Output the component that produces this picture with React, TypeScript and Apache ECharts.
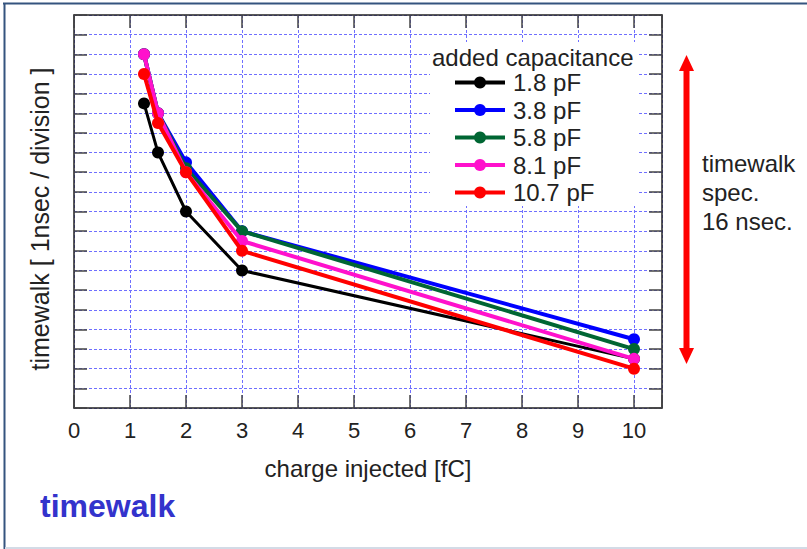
import React, { useEffect, useRef } from "react";
import * as echarts from "echarts";

const charge = [1.25, 1.5, 2, 3, 10];
const seriesNames = ["1.8 pF", "3.8 pF", "5.8 pF", "8.1 pF", "10.7 pF"];
const cap1_8 = [15.5, 13, 10, 7, 2.5];
const cap3_8 = [18, 15, 12.5, 9, 3.5];
const cap5_8 = [18, 15, 12.2, 9, 3];
const cap8_1 = [18, 15, 12, 8.5, 2.5];
const cap10_7 = [17, 14.5, 12, 8, 2];
const seriesValues = [cap1_8, cap3_8, cap5_8, cap8_1, cap10_7];
const seriesColors = ["#000000", "#0000ff", "#006633", "#ff11cc", "#ff0000"];
const seriesWidths = [3, 4, 4, 4, 4];

const FONT = "'Liberation Sans', Arial, Helvetica, sans-serif";
const TEXT = "#222222";

export default function App() {
  const ref = useRef<HTMLDivElement>(null);
  useEffect(() => {
    if (!ref.current) return;
    const chart = echarts.init(ref.current, null, { renderer: "svg" });
    const axisLine = { show: true, onZero: false, lineStyle: { color: "#222", width: 1.5 } };
    const axisTick = { show: true, inside: true, length: 13, lineStyle: { color: "#444", width: 1.5 } };
    const split = { show: true, lineStyle: { color: "#6f6fff", type: [3, 2], width: 1 } };
    const option: any = {
      animation: false,
      backgroundColor: "#ffffff",
      textStyle: { fontFamily: FONT },
      grid: { left: 74, right: 145, top: 15, bottom: 141, containLabel: false },
      xAxis: [
        {
          type: "value",
          min: 0,
          max: 10.5,
          interval: 1,
          position: "bottom",
          axisLine,
          axisTick,
          splitLine: split,
          axisLabel: {
            fontSize: 22,
            lineHeight: 22,
            color: TEXT,
            fontFamily: FONT,
            margin: 11,
            formatter: (v: number) => (Number.isInteger(v) ? String(v) : ""),
          },
          name: "charge injected [fC]",
          nameLocation: "middle",
          nameGap: 48,
          nameTextStyle: { fontSize: 24, lineHeight: 24, color: TEXT, fontFamily: FONT },
        },
        {
          type: "value",
          min: 0,
          max: 10.5,
          interval: 1,
          position: "top",
          axisLine,
          axisTick,
          splitLine: { show: false },
          axisLabel: { show: false },
        },
      ],
      yAxis: [
        {
          type: "value",
          min: 0,
          max: 20,
          interval: 1,
          position: "left",
          axisLine,
          axisTick,
          splitLine: split,
          axisLabel: { show: false },
        },
        {
          type: "value",
          min: 0,
          max: 20,
          interval: 1,
          position: "right",
          axisLine,
          axisTick,
          splitLine: { show: false },
          axisLabel: { show: false },
        },
      ],
      legend: {
        show: true,
        orient: "vertical",
        left: 453,
        top: 69,
        padding: 0,
        itemWidth: 50,
        itemHeight: 15,
        itemGap: 0.5,
        selectedMode: false,
        lineStyle: { width: 4 },
        textStyle: { fontSize: 24, lineHeight: 27, color: TEXT, fontFamily: FONT, padding: [0, 0, 0, 3] },
        data: seriesNames,
        z: 6,
      },
      series: seriesNames.map((name, i) => ({
        type: "line",
        name,
        xAxisIndex: 0,
        yAxisIndex: 0,
        data: charge.map((x, j) => [x, seriesValues[i][j]]),
        symbol: "circle",
        symbolSize: 12,
        showSymbol: true,
        lineStyle: { color: seriesColors[i], width: seriesWidths[i] },
        itemStyle: { color: seriesColors[i] },
        z: 2 + i * 0.1,
      })),
      graphic: [
        { type: "rect", z: 1, shape: { x: 430, y: 42, width: 207, height: 164 }, style: { fill: "#ffffff" } },
        {
          type: "text",
          z: 6,
          x: 432,
          y: 57,
          style: { text: "added capacitance", fontSize: 24, fontFamily: FONT, fill: TEXT, align: "left", verticalAlign: "middle" },
        },
        {
          type: "text",
          z: 6,
          x: 40,
          y: 219,
          rotation: Math.PI / 2,
          style: { text: "timewalk [ 1nsec / division ]", fontSize: 25, fontFamily: FONT, fill: TEXT, align: "center", verticalAlign: "middle" },
        },
        {
          type: "text",
          z: 6,
          x: 702,
          y: 149,
          style: { text: "timewalk\nspec.\n16 nsec.", fontSize: 24, lineHeight: 29, fontFamily: FONT, fill: TEXT, align: "left", verticalAlign: "top" },
        },
        {
          type: "text",
          z: 6,
          x: 40,
          y: 506,
          style: { text: "timewalk", fontSize: 32, fontWeight: "bold", fontFamily: FONT, fill: "#3333cc", align: "left", verticalAlign: "middle" },
        },
        { type: "rect", z: 6, shape: { x: 683.5, y: 70, width: 6, height: 279 }, style: { fill: "#ff0000" } },
        { type: "polygon", z: 6, shape: { points: [[679, 71], [694, 71], [686.5, 55]] }, style: { fill: "#ff0000" } },
        { type: "polygon", z: 6, shape: { points: [[679, 348], [694, 348], [686.5, 364]] }, style: { fill: "#ff0000" } },
        { type: "line", z: 6, shape: { x1: 3, y1: 3.5, x2: 807, y2: 3.5 }, style: { stroke: "#35547f", lineWidth: 2 } },
        { type: "line", z: 6, shape: { x1: 4.5, y1: 3, x2: 4.5, y2: 549 }, style: { stroke: "#35547f", lineWidth: 2 } },
        { type: "line", z: 6, shape: { x1: 5, y1: 548, x2: 807, y2: 548 }, style: { stroke: "#d3dbe6", lineWidth: 2 } },
      ],
    };
    chart.setOption(option);
    return () => chart.dispose();
  }, []);
  return (
    <div
      ref={ref}
      style={{ position: "fixed", left: 0, top: 0, width: 807, height: 549, background: "#ffffff" }}
    />
  );
}
